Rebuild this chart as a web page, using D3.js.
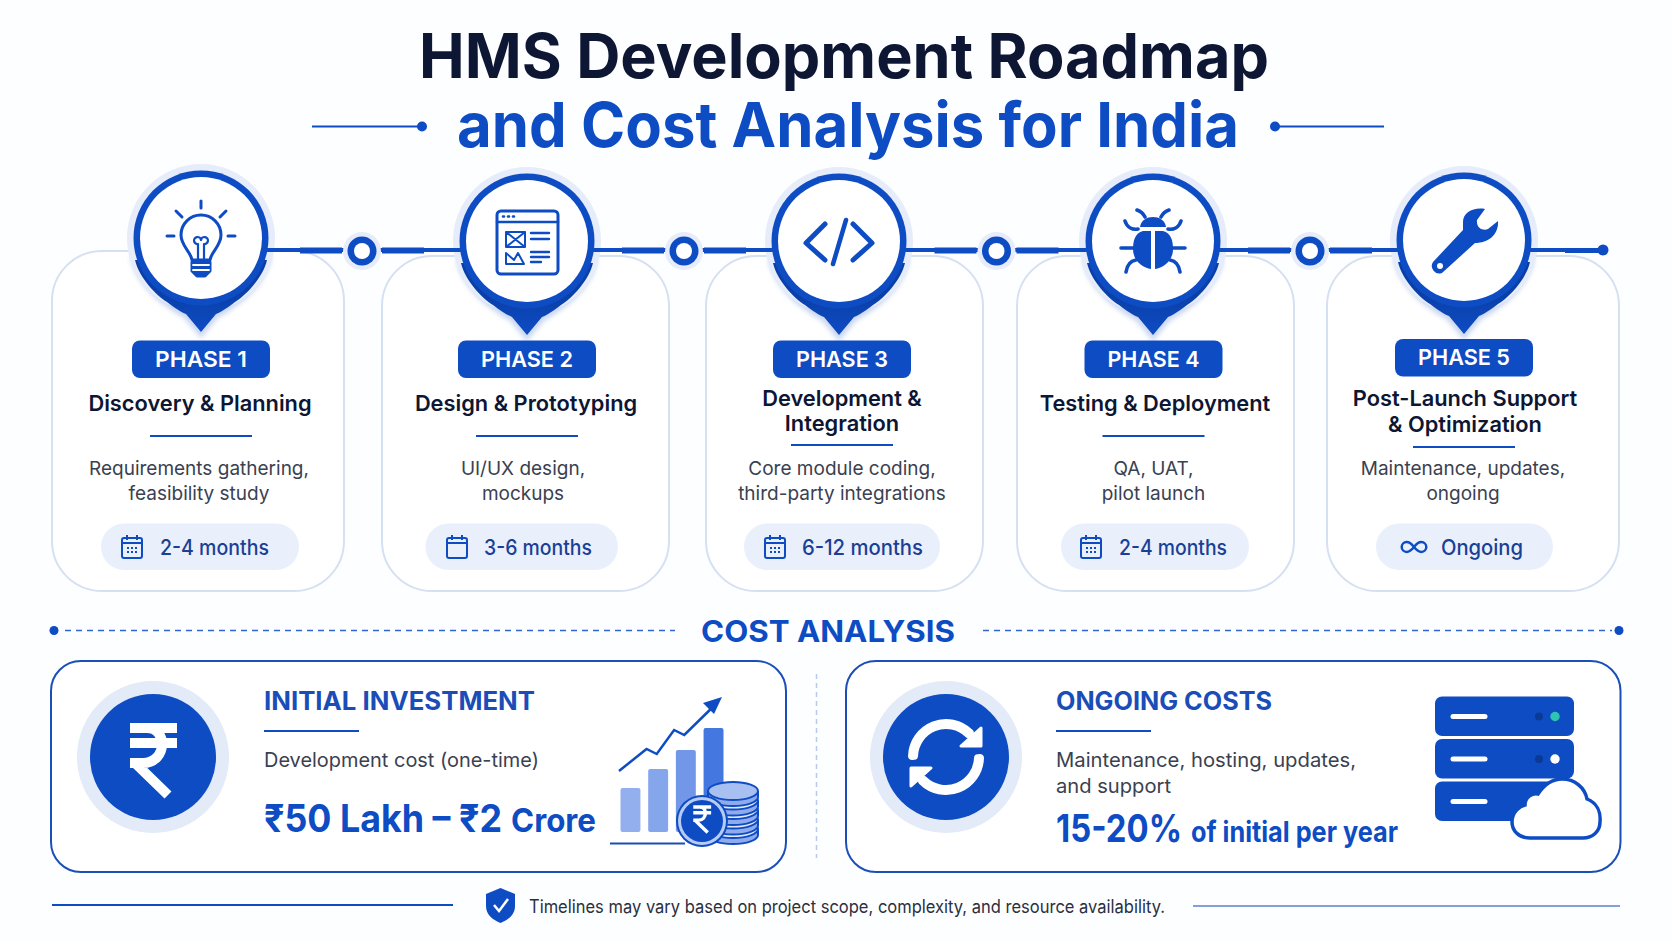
<!DOCTYPE html>
<html>
<head>
<meta charset="utf-8">
<title>HMS Development Roadmap</title>
<script src="https://cdn.jsdelivr.net/npm/d3@7/dist/d3.min.js"></script>
<style>
    html, body { margin: 0; padding: 0; background: #fdfeff; }
    svg { display: block; }
    text { font-family: Inter, "Noto Sans", sans-serif; }
</style>
</head>
<body>
<svg id="roadmap" width="1672" height="941"></svg>
<script>
// chart content
const phaseNames = ["PHASE 1", "PHASE 2", "PHASE 3", "PHASE 4", "PHASE 5"];
const phaseTitles = [["Discovery & Planning"], ["Design & Prototyping"], ["Development &", "Integration"], ["Testing & Deployment"], ["Post-Launch Support", "& Optimization"]];
const phaseNotes = [["Requirements gathering,", "feasibility study"], ["UI/UX design,", "mockups"], ["Core module coding,", "third-party integrations"], ["QA, UAT,", "pilot launch"], ["Maintenance, updates,", "ongoing"]];
const phaseTimes = ["2-4 months", "3-6 months", "6-12 months", "2-4 months", "Ongoing"];
const investmentBars = [44, 63, 82, 104];
const trendSteps = [0, 27, 37, 54, 64, 90];
const trendValues = [61, 83, 78, 102, 97, 123];

// colours
const blue = "#0e4cc4", deep = "#0a3fa8", navy = "#0d1633", grey = "#3a4150", pale = "#e6ecf9";

// layout of the five columns
const pinX = d3.scaleOrdinal(phaseNames, [201, 527, 839, 1153, 1464]);
const pinY = d3.scaleOrdinal(phaseNames, [238, 241, 241, 241, 240]);
const centerX = d3.scaleOrdinal(phaseNames, [201, 527, 842, 1153.5, 1464]);
const cardLeft = d3.scaleOrdinal(phaseNames, [52, 382, 706, 1017, 1327]);
const cardRight = d3.scaleOrdinal(phaseNames, [344, 669, 983, 1294, 1619]);
const pillLeft = d3.scaleOrdinal(phaseNames, [101, 425.5, 744, 1061, 1376]);
const pillRight = d3.scaleOrdinal(phaseNames, [299, 618, 940, 1249, 1553]);
const timeX = d3.scaleOrdinal(phaseNames, [160, 484, 802, 1119, 1441]);
const timeW = d3.scaleOrdinal(phaseNames, [109, 108, 121, 108, 82]);
const iconX = d3.scaleOrdinal(phaseNames, [132, 457, 775, 1091, 1414]);
const titleY = d3.scaleOrdinal(phaseNames, [[411], [411], [406, 431], [411], [406, 432]]);
const ruleY = d3.scaleOrdinal(phaseNames, [436, 436, 445, 436, 447]);

const svg = d3.select("#roadmap");
const defs = svg.append("defs");

const pinFill = defs.append("linearGradient").attr("id", "pinFill")
    .attr("x1", 0).attr("x2", 0).attr("y1", 0).attr("y2", 1);
pinFill.append("stop").attr("offset", "45%").attr("stop-color", deep);
pinFill.append("stop").attr("offset", "100%").attr("stop-color", blue);

defs.append("filter").attr("id", "soft")
    .append("feGaussianBlur").attr("stdDeviation", 2.5);

function label(parent, str, x, y, size, weight, fill, anchor, width) {
    const t = parent.append("text")
        .attr("x", x)
        .attr("y", y)
        .attr("font-size", size)
        .attr("font-weight", weight)
        .attr("fill", fill)
        .attr("text-anchor", anchor || "start")
        .text(str);
    if (width) {
        t.attr("textLength", width).attr("lengthAdjust", "spacingAndGlyphs");
    }
    return t;
}

function rule(x1, x2, y, width, color) {
    svg.append("line")
        .attr("x1", x1).attr("x2", x2)
        .attr("y1", y).attr("y2", y)
        .attr("stroke", color || blue)
        .attr("stroke-width", width || 2);
}

function dot(x, y, r, color) {
    svg.append("circle").attr("cx", x).attr("cy", y).attr("r", r).attr("fill", color || blue);
}

// heading
label(svg, "HMS Development Roadmap", 844, 78, 62, 700, navy, "middle", 850);
label(svg, "and Cost Analysis for India", 848, 147, 62, 700, blue, "middle", 782);
rule(312, 422, 126.5);
dot(422, 126.5, 5);
rule(1275, 1384, 126.5);
dot(1275, 126.5, 5);

// phase cards
svg.selectAll(".card")
    .data(phaseNames)
    .join("rect")
    .attr("class", "card")
    .attr("x", d => cardLeft(d))
    .attr("y", (d, i) => i === 0 ? 251 : 256)
    .attr("width", d => cardRight(d) - cardLeft(d))
    .attr("height", (d, i) => i === 0 ? 340 : 335)
    .attr("rx", 50)
    .attr("fill", "#ffffff")
    .attr("stroke", "#d6e0f3")
    .attr("stroke-width", 2);

// location pins
const pinShape = "M-66 22 C-62 40 -44 58 -34 64 C-26 70 -20 74 -15 76 L0 94 L15 76 C20 74 26 70 34 64 C44 58 62 40 66 22 Z";
const pins = svg.selectAll(".pin")
    .data(phaseNames)
    .join("g")
    .attr("class", "pin")
    .attr("transform", d => `translate(${pinX(d)},${pinY(d)})`);

pins.append("path").attr("d", pinShape).attr("fill", "#c9d6f0").attr("stroke", "#c9d6f0")
    .attr("stroke-width", 8).attr("filter", "url(#soft)");
pins.append("circle").attr("r", 74).attr("fill", pale);
pins.append("path").attr("d", pinShape).attr("fill", "url(#pinFill)");
pins.append("circle").attr("r", 67.5).attr("fill", blue);
pins.append("circle").attr("r", 61).attr("cy", 0).attr("fill", "#ffffff");

// connector between the pins, thicker toward each node
const nodeX = [362, 684, 996.5, 1310];
phaseNames.forEach((p, i) => {
    const from = pinX(p) + 66;
    const to = i < 4 ? pinX(phaseNames[i + 1]) - 66 : 1603;
    rule(from, to, 250, 4);
    if (i < 4) {
        rule(nodeX[i] - 62, nodeX[i] - 20, 250.5, 6);
        rule(nodeX[i] + 20, nodeX[i] + 62, 250.5, 6);
    }
});
rule(1565, 1603, 250.5, 5);
dot(1603, 250, 5.5);
nodeX.forEach(x => {
    dot(x, 251, 19, pale);
    dot(x, 251, 14.5, blue);
    dot(x, 251, 8, "#ffffff");
});

const icon = d => svg.append("g")
    .attr("transform", `translate(${pinX(d)},${pinY(d)})`)
    .attr("fill", "none")
    .attr("stroke", blue)
    .attr("stroke-width", 3)
    .attr("stroke-linecap", "round")
    .attr("stroke-linejoin", "round");

// bulb
const bulb = icon("PHASE 1");
bulb.append("path").attr("d", "M-9 22 C-10 14 -20 8 -20 -3 A20 20 0 0 1 20 -3 C20 8 10 14 9 22 Z");
bulb.append("path").attr("d", "M-3 22 V6 M3 22 V6 M-3 6 A3.5 3.5 0 1 1 0 2 A3.5 3.5 0 1 1 3 6").attr("stroke-width", 2.2);
bulb.append("path").attr("d", "M-9 24 H9 V33 L4 38 H-4 L-9 33 Z").attr("fill", blue);
bulb.append("path").attr("d", "M-8 27 H8 M-8 32 H8").attr("stroke", "#ffffff").attr("stroke-width", 1.8);
bulb.append("path").attr("d", "M0 -37 V-30 M-25 -27 L-19 -21 M25 -27 L19 -21 M-34 -2 H-27 M34 -2 H27");

// browser window
const win = icon("PHASE 2");
win.append("rect").attr("x", -30).attr("y", -30).attr("width", 61).attr("height", 63).attr("rx", 4);
win.append("path").attr("d", "M-30 -19 H31").attr("stroke-width", 2.5);
win.append("path").attr("d", "M-24 -24.5 h1 M-19 -24.5 h1 M-14 -24.5 h1").attr("stroke-width", 2.6);
win.append("path").attr("d", "M-21 -9 H-2 V6 H-21 Z M-21 -9 L-2 6 M-2 -9 L-21 6").attr("stroke-width", 2);
win.append("path").attr("d", "M-21 12 V23 H-3 L-9 12 L-13 19 Z").attr("stroke-width", 2);
win.append("path").attr("d", "M4 -8 H22 M4 -2 H22 M4 11 H22 M4 16 H22 M4 21 H14").attr("stroke-width", 2.4);

// code brackets
const code = icon("PHASE 3");
code.attr("stroke-width", 5);
code.append("path").attr("d", "M-14 -17 L-33 2 L-14 19");
code.append("path").attr("d", "M14 -17 L33 2 L14 19");
code.append("path").attr("d", "M7 -21 L-6 23").attr("stroke-width", 4.5);

// bug
const bug = icon("PHASE 4");
bug.attr("stroke-width", 3.6);
bug.append("path").attr("d", "M-2 -10 H-10 C-18 -8 -20 0 -20 8 C-20 20 -10 27 -2 28 Z").attr("fill", blue).attr("stroke", "none");
bug.append("path").attr("d", "M2 -10 H10 C18 -8 20 0 20 8 C20 20 10 27 2 28 Z").attr("fill", blue).attr("stroke", "none");
bug.append("path").attr("d", "M-13 -14 C-12 -21 -6 -24 0 -24 C6 -24 12 -21 13 -14 Z").attr("fill", blue).attr("stroke", "none");
bug.append("path").attr("d", "M-8 -24 C-10 -28 -13 -30 -16 -31 M8 -24 C10 -28 13 -30 16 -31 M-15 -12 C-21 -11 -26 -14 -28 -20 M15 -12 C21 -11 26 -14 28 -20 M-20 7 H-32 M20 7 H32 M-17 19 C-23 20 -26 24 -27 31 M17 19 C23 20 26 24 27 31");

// wrench
const wrench = icon("PHASE 5");
wrench.append("path")
    .attr("d", "M21 -31 C10 -33 -1 -28 -1 -18 C-1 -14 -1 -12 -1 -10 L-31 22 A7.5 7.5 0 0 0 -22 33 L11 3 C25 3 35 -6 34 -19 L24 -11 C20 -9 12 -11 13 -20 Z")
    .attr("fill", blue)
    .attr("stroke", "none");
wrench.append("circle").attr("cx", -24).attr("cy", 26).attr("r", 3).attr("fill", "#ffffff").attr("stroke", "none");

// badges, titles, notes and durations
phaseNames.forEach((p, i) => {
    const cx = centerX(p);
    svg.append("rect")
        .attr("x", cx - 69).attr("y", i === 4 ? 339 : 340.5)
        .attr("width", 138).attr("height", 37.5)
        .attr("rx", 8).attr("fill", blue);
    label(svg, p, cx, i === 4 ? 365 : 366.5, 22, 600, "#ffffff", "middle", 92);

    const offset = [-1, -1, 0, 1.5, 1][i];
    phaseTitles[i].forEach((t, j) => label(svg, t, cx + offset, titleY(p)[j], 21.8, 600, navy, "middle"));
    rule(cx - 51, cx + 51, ruleY(p), 2);

    const noteShift = [-2, -4, 0, 0, -1][i];
    phaseNotes[i].forEach((t, j) => label(svg, t, cx + noteShift, 474.5 + j * 25.5, 19, 400, grey, "middle"));

    svg.append("rect")
        .attr("x", pillLeft(p)).attr("y", 523.5)
        .attr("width", pillRight(p) - pillLeft(p)).attr("height", 46.5)
        .attr("rx", 23).attr("fill", "#eaf0fb");
    label(svg, phaseTimes[i], timeX(p), 554.5, 21, 500, "#1a3f96", "start", timeW(p));

    const g = svg.append("g")
        .attr("transform", `translate(${iconX(p)},547)`)
        .attr("fill", "none")
        .attr("stroke", blue)
        .attr("stroke-width", 2);
    if (i === 4) {
        g.attr("stroke-width", 3).attr("transform", `translate(${iconX(p)},547) scale(0.82)`);
        g.append("path").attr("d", "M0 0 C-4 -5 -7 -6 -9 -6 A6 6 0 0 0 -9 6 C-7 6 -4 5 0 0 C4 -5 7 -6 9 -6 A6 6 0 0 1 9 6 C7 6 4 5 0 0 Z");
    } else {
        g.append("rect").attr("x", -10).attr("y", -9).attr("width", 20).attr("height", 20).attr("rx", 2);
        g.append("path").attr("d", "M-10 -4 H10 M-5 -12 V-7 M5 -12 V-7");
        if (i !== 1) {
            g.append("path")
                .attr("d", "M-5 1 h2 M-1 1 h2 M3 1 h2 M-5 5 h2 M-1 5 h2 M3 5 h2")
                .attr("stroke-width", 2);
        }
    }
});

// cost analysis heading
label(svg, "COST ANALYSIS", 828, 642, 30, 700, blue, "middle", 254);
[[65, 675], [983, 1612]].forEach(d => {
    svg.append("line")
        .attr("x1", d[0]).attr("x2", d[1])
        .attr("y1", 630.5).attr("y2", 630.5)
        .attr("stroke", "#2f66d0")
        .attr("stroke-width", 1.5)
        .attr("stroke-dasharray", "6 5");
});
dot(54, 630.5, 4.5);
dot(1619, 630.5, 4.5);

// cost cards
[[51, 786], [846, 1620.5]].forEach(d => {
    svg.append("rect")
        .attr("x", d[0]).attr("y", 661)
        .attr("width", d[1] - d[0]).attr("height", 211)
        .attr("rx", 30)
        .attr("fill", "#ffffff")
        .attr("stroke", "#1a4fb8")
        .attr("stroke-width", 2);
});
svg.append("line")
    .attr("x1", 816.5).attr("x2", 816.5)
    .attr("y1", 674).attr("y2", 858)
    .attr("stroke", "#b8c9ea")
    .attr("stroke-width", 1.5)
    .attr("stroke-dasharray", "5 4");

// big round icons
[153, 946].forEach(x => {
    dot(x, 757, 76, "#e3eaf8");
    dot(x, 757, 63, blue);
});

const rupeeShape = "M-23 -29 H24 M-23 -14 H24 M-22 -29 H-6 C5 -29 9 -20 9 -13 C9 -3 2 6 -10 6 H-23 M-19 5 L15 38";
svg.append("path")
    .attr("d", rupeeShape)
    .attr("transform", "translate(153,757)")
    .attr("fill", "none")
    .attr("stroke", "#ffffff")
    .attr("stroke-width", 10);

// refresh arrows
const refreshArc = d3.arc()
    .innerRadius(28)
    .outerRadius(38)
    .startAngle(-1.66)
    .endAngle(0.9)
    .cornerRadius(4);
[0, 180].forEach(a => {
    const g = svg.append("g").attr("transform", `translate(946,757) rotate(${a})`).attr("fill", "#ffffff");
    g.append("path").attr("d", refreshArc());
    g.append("path")
        .attr("d", "M35 -29 V-11 H15 Z")
        .attr("stroke", "#ffffff")
        .attr("stroke-width", 3)
        .attr("stroke-linejoin", "round");
});

// initial investment text
label(svg, "INITIAL INVESTMENT", 264, 710, 25, 700, "#1a4db8", "start", 271);
rule(264, 359, 731, 2);
label(svg, "Development cost (one-time)", 264, 767, 20, 400, grey, "start", 275);
label(svg, "₹50 Lakh – ₹2", 264, 832, 38, 700, blue, "start", 238);
label(svg, "Crore", 511, 832, 33, 700, blue, "start", 85);

// small growth chart
const barX = d3.scaleBand().domain(d3.range(investmentBars.length)).range([620.5, 723.5]).paddingInner(0.28);
const barY = d3.scaleLinear().domain([0, 104]).range([832, 728]);
const stepX = d3.scaleLinear().domain([0, 100]).range([619, 721]);
const barColor = d3.scaleOrdinal(d3.range(4), ["#93afee", "#86a6ec", "#7397e8", "#4478e0"]);

svg.selectAll(".bar")
    .data(investmentBars)
    .join("rect")
    .attr("class", "bar")
    .attr("x", (d, i) => barX(i))
    .attr("y", d => barY(d))
    .attr("width", barX.bandwidth())
    .attr("height", d => barY(0) - barY(d))
    .attr("rx", 2)
    .attr("fill", (d, i) => barColor(i));

rule(610, 685, 843.5, 2, "#1a4db8");

const trend = d3.line().x(d => stepX(d[0])).y(d => barY(d[1]));
svg.append("path")
    .attr("d", trend(d3.zip(trendSteps, trendValues)))
    .attr("fill", "none")
    .attr("stroke", blue)
    .attr("stroke-width", 2.5);
svg.append("path")
    .attr("d", "M722 697 L703 703 L714 714 Z")
    .attr("fill", blue);

// coin stack
d3.range(5).forEach(i => {
    const y = 829 - i * 9.5;
    svg.append("path")
        .attr("d", `M708 ${y} V${y + 6} A25 9 0 0 0 758 ${y + 6} V${y}`)
        .attr("fill", "#8fabeb")
        .attr("stroke", blue)
        .attr("stroke-width", 2);
    svg.append("ellipse")
        .attr("cx", 733).attr("cy", y)
        .attr("rx", 25).attr("ry", 9)
        .attr("fill", i === 4 ? "#a8bff1" : "#dfe7fa")
        .attr("stroke", blue)
        .attr("stroke-width", 2);
});
dot(702, 821, 26, blue);
dot(702, 821, 24, "#b9cbf4");
dot(702, 821, 21, blue);
svg.append("path")
    .attr("d", rupeeShape)
    .attr("transform", "translate(702,818) scale(0.38)")
    .attr("fill", "none")
    .attr("stroke", "#ffffff")
    .attr("stroke-width", 9);

// ongoing costs text
label(svg, "ONGOING COSTS", 1056, 710, 25, 700, "#1a4db8", "start", 216);
rule(1056, 1151, 731, 2);
label(svg, "Maintenance, hosting, updates,", 1056, 767, 20, 400, grey, "start", 300);
label(svg, "and support", 1056, 793, 20, 400, grey, "start", 115);
label(svg, "15-20%", 1056, 842, 38, 700, blue, "start", 126);
label(svg, "of initial per year", 1191, 842, 29, 700, blue, "start", 207);

// server rack with cloud
const rackRows = [696.5, 739, 781.5];
rackRows.forEach((y, i) => {
    svg.append("rect")
        .attr("x", 1435).attr("y", y)
        .attr("width", 139).attr("height", 39.5)
        .attr("rx", 7).attr("fill", blue);
    svg.append("rect")
        .attr("x", 1450.5).attr("y", y + 17.5)
        .attr("width", 37).attr("height", 5)
        .attr("rx", 2.5).attr("fill", "#ffffff");
    if (i < 2) {
        dot(1539, y + 20, 4, "#0b3a96");
        dot(1555, y + 20, 4.7, i === 0 ? "#2dc4b0" : "#ffffff");
    }
});
svg.append("path")
    .attr("d", "M1530 838 C1518 838 1512 830 1512 822 C1512 812 1520 806 1525 805 C1525 797 1532 793 1538 794 C1544 785 1552 779 1562 779 C1575 779 1585 788 1587 799 C1597 803 1601 812 1600 822 C1600 832 1592 838 1583 838 Z")
    .attr("fill", "#ffffff")
    .attr("stroke", blue)
    .attr("stroke-width", 3.5);

// footnote
rule(52, 453, 905, 2);
rule(1193, 1620, 906, 1.5, "#5c80cc");
svg.append("path")
    .attr("d", "M500.5 888 L515 894 V906 C515 915 508 920 500.5 923 C493 920 486 915 486 906 V894 Z")
    .attr("fill", blue);
svg.append("path")
    .attr("d", "M494 905 L499 911 L508 899")
    .attr("fill", "none")
    .attr("stroke", "#ffffff")
    .attr("stroke-width", 2.5);
label(svg, "Timelines may vary based on project scope, complexity, and resource availability.", 529, 912.5, 18, 400, "#2a3040", "start", 636);
</script>
</body>
</html>
